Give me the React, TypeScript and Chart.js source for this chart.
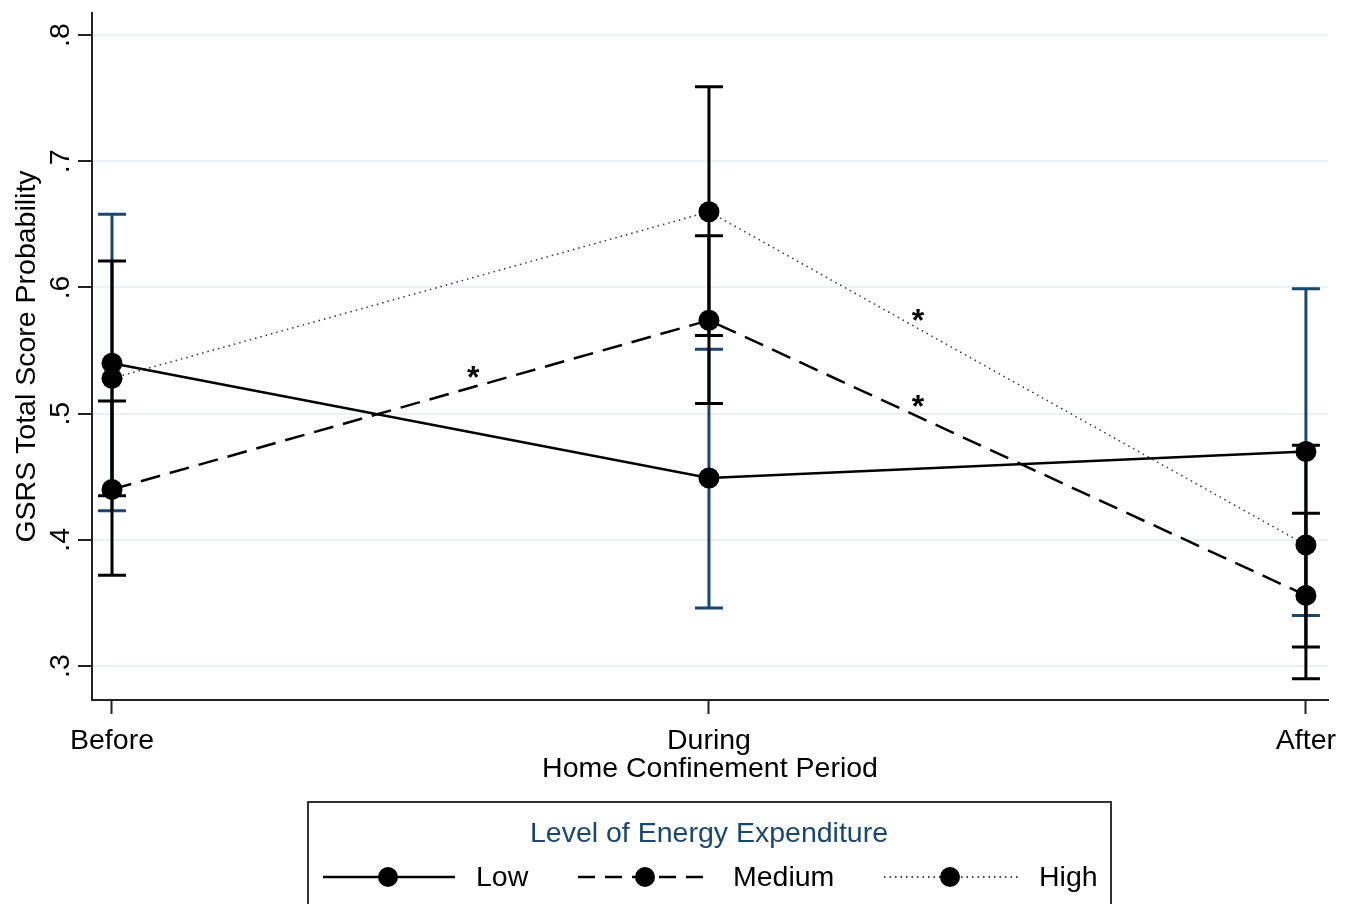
import React, { useEffect, useRef } from "react";
import { Chart, registerables } from "chart.js";

Chart.register(...registerables);

const categories = ["Before", "During", "After"];
const seriesNames = ["Low", "Medium", "High"];

const lowMean = [0.54, 0.449, 0.47];
const lowLo = [0.423, 0.346, 0.34];
const lowHi = [0.658, 0.551, 0.599];

const medMean = [0.44, 0.574, 0.356];
const medLo = [0.372, 0.508, 0.29];
const medHi = [0.51, 0.641, 0.421];

const highMean = [0.528, 0.66, 0.396];
const highLo = [0.435, 0.562, 0.315];
const highHi = [0.621, 0.759, 0.475];

const yTicks = [0.3, 0.4, 0.5, 0.6, 0.7, 0.8];

// significance markers (data coordinates)
const starX = [0.605, 1.35, 1.35];
const starY = [0.534, 0.579, 0.511];

const axisTitleX = "Home Confinement Period";
const axisTitleY = "GSRS Total Score Probability";
const legendTitle = "Level of Energy Expenditure";

const FONT = '"Liberation Sans", Arial, sans-serif';
const NAVY = "#1a476f";

export default function App() {
  const ref = useRef<HTMLCanvasElement | null>(null);

  useEffect(() => {
    document.body.style.margin = "0";
    const canvas = ref.current!;
    const ciSets = [
      { lo: lowLo, hi: lowHi, color: NAVY },
      { lo: medLo, hi: medHi, color: "#000" },
      { lo: highLo, hi: highHi, color: "#000" },
    ];

    const plugin = {
      id: "custom",
      beforeDatasetsDraw(chart: any) {
        const ctx = chart.ctx as CanvasRenderingContext2D;
        const xs = chart.scales.x;
        const ys = chart.scales.y;
        ctx.save();
        ctx.lineWidth = 3;
        for (const s of ciSets) {
          ctx.strokeStyle = s.color;
          categories.forEach((_, i) => {
            const x = xs.getPixelForValue(i);
            const y1 = ys.getPixelForValue(s.lo[i]);
            const y2 = ys.getPixelForValue(s.hi[i]);
            ctx.beginPath();
            ctx.moveTo(x, y1);
            ctx.lineTo(x, y2);
            ctx.moveTo(x - 14, y1);
            ctx.lineTo(x + 14, y1);
            ctx.moveTo(x - 14, y2);
            ctx.lineTo(x + 14, y2);
            ctx.stroke();
          });
        }
        ctx.restore();
      },
      afterDraw(chart: any) {
        const ctx = chart.ctx as CanvasRenderingContext2D;
        const xs = chart.scales.x;
        const ys = chart.scales.y;
        const area = chart.chartArea;
        ctx.save();
        // asterisks
        ctx.fillStyle = "#000";
        ctx.font = `bold 32px ${FONT}`;
        ctx.textAlign = "center";
        ctx.textBaseline = "alphabetic";
        starX.forEach((sx, i) => {
          ctx.fillText("*", xs.getPixelForValue(sx), ys.getPixelForValue(starY[i]) + 17);
        });
        // x tick labels
        ctx.font = `28.5px ${FONT}`;
        categories.forEach((c, i) => {
          ctx.fillText(c, xs.getPixelForValue(i), area.bottom + 49);
        });
        ctx.fillText(axisTitleX, (area.left + area.right) / 2, area.bottom + 77);
        // y tick labels (rotated)
        yTicks.forEach((v) => {
          const y = ys.getPixelForValue(v);
          ctx.save();
          ctx.translate(69, y);
          ctx.rotate(-Math.PI / 2);
          ctx.textAlign = "center";
          ctx.textBaseline = "alphabetic";
          ctx.fillText(v.toFixed(1).replace(/^0/, ""), 0, 0);
          ctx.restore();
        });
        ctx.save();
        ctx.translate(35, (area.top + area.bottom) / 2);
        ctx.rotate(-Math.PI / 2);
        ctx.textAlign = "center";
        ctx.fillText(axisTitleY, 0, 0);
        ctx.restore();

        // legend
        ctx.strokeStyle = "#333";
        ctx.lineWidth = 2;
        ctx.strokeRect(308, 802, 803, 200);
        ctx.fillStyle = NAVY;
        ctx.textAlign = "center";
        ctx.textBaseline = "middle";
        ctx.fillText(legendTitle, 709, 834);
        const items = [
          { x0: 323, x1: 455, mx: 388, tx: 476, dash: [] as number[], w: 2.5 },
          { x0: 578, x1: 712, mx: 645, tx: 733, dash: [17, 10], w: 2.5 },
          { x0: 884, x1: 1018, mx: 950, tx: 1039, dash: [1.5, 4], w: 1.5 },
        ];
        items.forEach((it, i) => {
          const y = 877;
          ctx.strokeStyle = "#000";
          ctx.lineWidth = it.w;
          ctx.setLineDash(it.dash);
          ctx.beginPath();
          ctx.moveTo(it.x0, y);
          ctx.lineTo(it.x1, y);
          ctx.stroke();
          ctx.setLineDash([]);
          ctx.fillStyle = "#000";
          ctx.beginPath();
          ctx.arc(it.mx, y, 10, 0, Math.PI * 2);
          ctx.fill();
          ctx.textAlign = "left";
          ctx.fillText(seriesNames[i], it.tx, y + 1);
        });
        ctx.restore();
      },
    };

    const mk = (label: string, vals: number[], dash: number[], w: number, color: string) => ({
      label,
      data: vals.map((v, i) => ({ x: i, y: v })),
      borderColor: color,
      borderWidth: w,
      borderDash: dash,
      pointRadius: 10.5,
      pointBackgroundColor: "#000",
      pointBorderWidth: 0,
      pointHoverRadius: 10.5,
      fill: false,
      tension: 0,
    });

    const chart = new Chart(canvas, {
      type: "line",
      data: {
        datasets: [
          mk(seriesNames[0], lowMean, [], 2.5, "#000"),
          mk(seriesNames[1], medMean, [20, 10], 2.5, "#000"),
          mk(seriesNames[2], highMean, [1.5, 4], 1.5, "#333"),
        ],
      },
      options: {
        responsive: false,
        animation: false,
        layout: { padding: { top: 13, right: 23, left: 0, bottom: 0 } },
        plugins: { legend: { display: false }, tooltip: { enabled: false } },
        scales: {
          x: {
            type: "linear",
            min: -0.0335,
            max: 2.037,
            afterBuildTicks: (s: any) => {
              s.ticks = categories.map((_, i) => ({ value: i }));
            },
            afterFit: (s: any) => {
              s.height = 204;
            },
            grid: { drawOnChartArea: false, drawTicks: true, tickLength: 14, tickColor: "#222", tickWidth: 2 },
            border: { color: "#222", width: 2 },
            ticks: { display: false },
          },
          y: {
            type: "linear",
            min: 0.2731,
            max: 0.8175,
            afterBuildTicks: (s: any) => {
              s.ticks = yTicks.map((v) => ({ value: v }));
            },
            afterFit: (s: any) => {
              s.width = 92;
            },
            grid: { color: "#eaf2f3", lineWidth: 2, tickColor: "#222", tickLength: 14, tickWidth: 2 },
            border: { color: "#222", width: 2 },
            ticks: { display: false },
          },
        },
      },
      plugins: [plugin],
    } as any);
    return () => chart.destroy();
  }, []);

  return <canvas ref={ref} width={1351} height={904} style={{ display: "block" }} />;
}
